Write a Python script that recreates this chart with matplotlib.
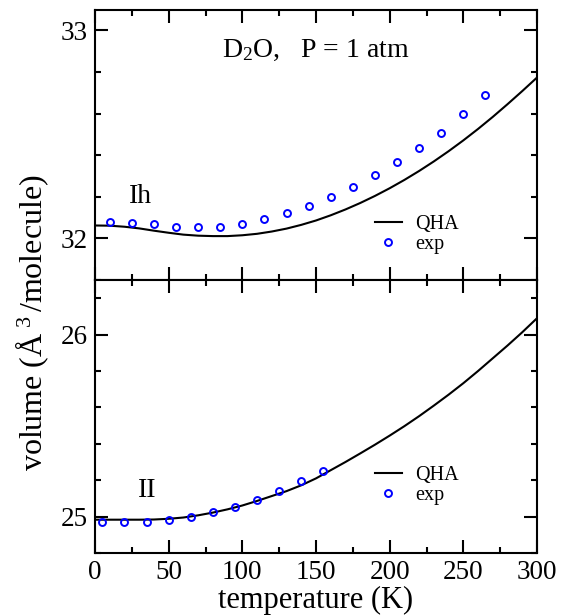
import numpy as np
import matplotlib
matplotlib.use("Agg")
import matplotlib.pyplot as plt
from matplotlib.ticker import MultipleLocator, FixedLocator

plt.rcParams['font.family'] = ['Liberation Serif', 'DejaVu Serif']
plt.rcParams['mathtext.fontset'] = 'custom'
plt.rcParams['mathtext.rm'] = 'Liberation Serif'
plt.rcParams['mathtext.it'] = 'Liberation Serif:italic'

# ---- data ----
T_qha = [0, 10, 20, 30, 40, 50, 60, 70, 80, 90, 100, 110, 120, 130, 140, 150,
         160, 170, 180, 190, 200, 210, 220, 230, 240, 250, 260, 270, 280, 290, 300]
V_qha_Ih = [32.062, 32.061, 32.056, 32.048, 32.037, 32.027, 32.018, 32.013, 32.011,
            32.011, 32.015, 32.022, 32.033, 32.047, 32.065, 32.086, 32.111, 32.139,
            32.170, 32.204, 32.241, 32.281, 32.324, 32.370, 32.419, 32.471, 32.526,
            32.584, 32.645, 32.708, 32.773]
T_exp_Ih = [10, 25, 40, 55, 70, 85, 100, 115, 130, 145, 160, 175, 190, 205, 220, 235, 250, 265]
V_exp_Ih = [32.080, 32.075, 32.068, 32.057, 32.056, 32.057, 32.067, 32.091, 32.121,
            32.155, 32.199, 32.246, 32.303, 32.368, 32.435, 32.506, 32.600, 32.687]

V_qha_II = [24.983, 24.983, 24.983, 24.983, 24.984, 24.988, 24.995, 25.007, 25.022,
            25.040, 25.061, 25.086, 25.113, 25.140, 25.172, 25.210, 25.255, 25.300,
            25.347, 25.395, 25.445, 25.497, 25.552, 25.610, 25.670, 25.733, 25.800,
            25.870, 25.940, 26.013, 26.090]
T_exp_II = [5, 20, 35, 50, 65, 80, 95, 110, 125, 140, 155]
V_exp_II = [24.969, 24.969, 24.972, 24.982, 24.996, 25.024, 25.055, 25.092, 25.142,
            25.193, 25.250]

W, H = 561, 615
fig = plt.figure(figsize=(W / 100, H / 100), dpi=100)
left, right = 95 / W, 537 / W
ax1 = fig.add_axes([left, 1 - 280 / H, right - left, (280 - 9.5) / H])
ax2 = fig.add_axes([left, 1 - 553 / H, right - left, (553 - 280) / H])

for ax, Vq, Te, Ve, ylim, yt, ly in [
        (ax1, V_qha_Ih, T_exp_Ih, V_exp_Ih, (31.8, 33.1), [32, 33], 0.24),
        (ax2, V_qha_II, T_exp_II, V_exp_II, (24.8, 26.3), [25, 26], 0.319)]:
    ax.plot(T_qha, Vq, color='black', lw=1.5, label='QHA')
    ax.plot(Te, Ve, ls='none', marker='o', ms=5, mfc='none', mec='#0000ff',
            mew=1.4, label='exp')
    ax.set_xlim(0, 300)
    ax.set_ylim(*ylim)
    ax.xaxis.set_major_locator(MultipleLocator(50))
    ax.xaxis.set_minor_locator(MultipleLocator(25))
    ax.yaxis.set_major_locator(FixedLocator(yt))
    ax.yaxis.set_minor_locator(MultipleLocator(0.2))
    ax.tick_params(which='both', direction='in', top=True, right=True, width=1.5,
                   labelsize=19.5)
    ax.tick_params(which='major', length=9.5, pad=5)
    ax.tick_params(which='minor', length=4.5)
    for s in ax.spines.values():
        s.set_linewidth(1.5)
    ax.legend(loc='upper left', bbox_to_anchor=(0.633, ly),
              frameon=False, fontsize=14.5, handlelength=1.35, handletextpad=0.65,
              labelspacing=0.05, borderpad=0, borderaxespad=0)

ax1.tick_params(labelbottom=False)
ax1.text(0.5, 0.848, r'D$_2$O,   P = 1 atm', transform=ax1.transAxes,
         ha='center', va='center', fontsize=20)
ax1.text(0.102, 0.31, 'Ih', transform=ax1.transAxes, ha='center', va='center',
         fontsize=20)
ax2.text(0.118, 0.23, 'II', transform=ax2.transAxes, ha='center', va='center',
         fontsize=20)

ax2.set_xlabel('temperature (K)', fontsize=22, labelpad=1)
fig.text(32 / W, 1 - 323 / H, r'volume (Å$^{\,\,3}\,$/molecule)', rotation=90,
         ha='center', va='center', fontsize=23)

fig.savefig('out.png', dpi=100)
